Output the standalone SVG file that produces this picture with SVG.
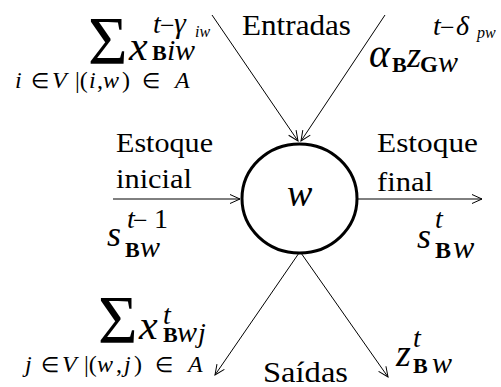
<svg xmlns="http://www.w3.org/2000/svg" width="501" height="387" viewBox="0 0 501 387" font-family="Liberation Serif, serif">
<style>
text { font-family: "Liberation Serif", serif; fill: #000; }
.it { font-style: italic; }
.bd { font-weight: bold; }
.ln { stroke: #000; stroke-width: 1; fill: none; }
</style>
<defs>
<marker id="ah" markerUnits="userSpaceOnUse" markerWidth="14" markerHeight="12" refX="11" refY="5" orient="auto" viewBox="0 0 14 12">
<path d="M1,0.5 L11,5 L1,9.5" fill="none" stroke="#000" stroke-width="1"/>
</marker>
</defs>
<rect width="501" height="387" fill="#fff"/>
<g id="connectors">
<line class="ln" x1="212" y1="15" x2="298" y2="141" marker-end="url(#ah)"/>
<line class="ln" x1="385" y1="15" x2="301" y2="141" marker-end="url(#ah)"/>
<line class="ln" x1="113" y1="199" x2="240" y2="199" marker-end="url(#ah)"/>
<line class="ln" x1="358" y1="199" x2="482" y2="199" marker-end="url(#ah)"/>
<line class="ln" x1="299" y1="253" x2="215" y2="375" marker-end="url(#ah)"/>
<line class="ln" x1="301" y1="253" x2="388" y2="377" marker-end="url(#ah)"/>
</g>
<g id="node-w">
<ellipse cx="299.5" cy="198.5" rx="57.5" ry="54.5" fill="none" stroke="#000" stroke-width="3"/>
<text class="it" x="287" y="206" font-size="38">w</text>
</g>
<g id="labels">
<text x="242" y="35" font-size="30" textLength="109" lengthAdjust="spacingAndGlyphs">Entradas</text>
<text x="116" y="152" font-size="28" textLength="97" lengthAdjust="spacingAndGlyphs">Estoque</text>
<text x="116" y="188" font-size="28" textLength="76" lengthAdjust="spacingAndGlyphs">inicial</text>
<text x="377" y="152" font-size="28" textLength="101" lengthAdjust="spacingAndGlyphs">Estoque</text>
<text x="377" y="191" font-size="28" textLength="56" lengthAdjust="spacingAndGlyphs">final</text>
<text x="263" y="382" font-size="30" textLength="85" lengthAdjust="spacingAndGlyphs">Saídas</text>
</g>
<g id="expr-in-sum">
<text x="88" y="63" font-size="68">Σ</text>
<text class="it" x="129" y="60" font-size="42">x</text>
<text class="it" x="153" y="33" font-size="28">t</text>
<text x="160" y="34" font-size="26">−</text>
<text class="it" x="174" y="33" font-size="30">γ</text>
<text class="it" x="195" y="37" font-size="16">iw</text>
<text class="bd" x="152" y="60" font-size="22">B</text>
<text class="it" x="167" y="60" font-size="30">i<tspan x="175">w</tspan></text>
<text y="88" font-size="24"><tspan class="it" x="15">i</tspan><tspan x="31" font-size="21">∈</tspan><tspan class="it" x="52">V</tspan><tspan x="75">|(</tspan><tspan class="it" x="89">i</tspan><tspan x="97">,</tspan><tspan class="it" x="103">w</tspan><tspan x="122">)</tspan><tspan x="142" font-size="21">∈</tspan><tspan class="it" x="175">A</tspan></text>
</g>
<g id="expr-in-z">
<text class="it" x="369" y="67" font-size="40">α</text>
<text class="bd" x="392" y="72" font-size="22">B</text>
<text class="it" x="407" y="67" font-size="36">z</text>
<text class="bd" x="420" y="72" font-size="23">G</text>
<text class="it" x="438" y="72" font-size="30">w</text>
<text class="it" x="433" y="35" font-size="28">t</text>
<text x="440" y="36" font-size="26">−</text>
<text class="it" x="456" y="35" font-size="28">δ</text>
<text class="it" x="477" y="38" font-size="16">pw</text>
</g>
<g id="expr-s-init">
<text class="it" x="107" y="246" font-size="36">s</text>
<text class="it" x="127" y="228" font-size="28">t</text>
<text x="133" y="229" font-size="26">−</text>
<text x="154" y="228" font-size="28">1</text>
<text class="bd" x="125" y="257" font-size="22">B</text>
<text class="it" x="140" y="257" font-size="30">w</text>
</g>
<g id="expr-s-final">
<text class="it" x="417" y="248" font-size="36">s</text>
<text class="it" x="435" y="228" font-size="28">t</text>
<text class="bd" x="435" y="258" font-size="24">B</text>
<text class="it" x="453" y="258" font-size="32">w</text>
</g>
<g id="expr-out-sum">
<text x="98" y="342" font-size="68">Σ</text>
<text class="it" x="139" y="339" font-size="42">x</text>
<text class="it" x="163" y="324" font-size="28">t</text>
<text class="bd" x="163" y="342" font-size="22">B</text>
<text class="it" x="177" y="342" font-size="30">w</text>
<text class="it" x="198" y="342" font-size="28">j</text>
<text y="372" font-size="24"><tspan class="it" x="25">j</tspan><tspan x="41" font-size="21">∈</tspan><tspan class="it" x="62">V</tspan><tspan x="84">|(</tspan><tspan class="it" x="97">w</tspan><tspan x="116">,</tspan><tspan class="it" x="124">j</tspan><tspan x="134">)</tspan><tspan x="155" font-size="21">∈</tspan><tspan class="it" x="188">A</tspan></text>
</g>
<g id="expr-out-z">
<text class="it" x="396" y="366" font-size="38">z</text>
<text class="it" x="413" y="347" font-size="28">t</text>
<text class="bd" x="413" y="373" font-size="22">B</text>
<text class="it" x="432" y="373" font-size="30">w</text>
</g>
</svg>
